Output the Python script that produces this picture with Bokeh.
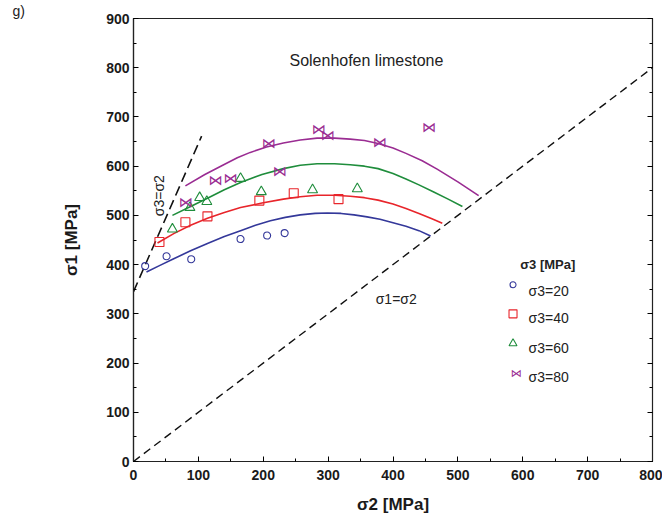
from bokeh.plotting import figure
from bokeh.models import Range1d, LinearAxis, FixedTicker, Label
from bokeh.core.properties import value
from bokeh.embed import file_html
from bokeh.resources import INLINE

# ---- data ----
s20_x = [18, 51, 89, 165, 206, 233]
s20_y = [397, 417, 411, 452, 459, 464]
s40_x = [40, 80, 114, 194, 247, 316]
s40_y = [446, 486, 498, 530, 545, 533]
s60_x = [60, 87, 102, 113, 165, 197, 276, 345]
s60_y = [472, 516, 536, 528, 575, 548, 552, 554]
s80_x = [80, 126, 149, 208, 225, 285, 299, 379, 455]
s80_y = [528, 571, 576, 647, 591, 675, 663, 649, 679]

c20_x = [20, 40, 62, 88, 114, 140, 165, 188, 211, 234, 257, 280, 299, 320, 340, 360, 380, 400, 420, 440, 458]
c20_y = [385, 398, 412, 428, 443, 457, 469, 480, 489, 496, 501, 504, 505, 504, 501, 497, 492, 485, 478, 469, 458]
c40_x = [37, 62, 88, 114, 140, 165, 198, 231, 257, 283, 310, 334, 356, 377, 400, 420, 440, 460, 476]
c40_y = [444, 463, 480, 494, 506, 516, 525, 533, 538, 541, 541, 539, 536, 531, 523, 514, 504, 493, 484]
c60_x = [60, 88, 114, 140, 165, 198, 231, 257, 283, 310, 334, 356, 377, 400, 420, 440, 462, 485, 507]
c60_y = [500, 518, 535, 552, 567, 583, 595, 602, 605, 605, 603, 600, 595, 585, 574, 562, 548, 533, 518]
c80_x = [80, 110, 139, 160, 180, 205, 231, 257, 283, 310, 334, 356, 377, 400, 420, 445, 468, 500, 532]
c80_y = [560, 583, 603, 617, 628, 639, 647, 653, 657, 657, 655, 652, 646, 637, 626, 611, 594, 568, 540]

eq32_x = [0, 105]
eq32_y = [345, 661]
eq12_x = [0, 800]
eq12_y = [0, 800]

x_ticks = [0, 100, 200, 300, 400, 500, 600, 700, 800]
y_ticks = [0, 100, 200, 300, 400, 500, 600, 700, 800, 900]
legend_labels = ["σ3=20", "σ3=40", "σ3=60", "σ3=80"]

BLUE = "#34389a"
RED = "#e8252b"
GREEN = "#1f8d3c"
PURPLE = "#9a2c92"
FONT = "Liberation Sans"

p = figure(width=662, height=522, output_backend="svg", toolbar_location=None,
           x_range=Range1d(0, 800), y_range=Range1d(0, 900),
           min_border_left=133, min_border_right=10, min_border_top=0, min_border_bottom=61)
p.title.text = "g)"
p.title.align = "left"
p.title.offset = -121
p.title.standoff = 0
p.title.text_font = FONT
p.title.text_font_size = "14px"
p.title.text_font_style = "normal"
p.title.text_color = "#222222"

p.xgrid.visible = False
p.ygrid.visible = False
p.outline_line_color = "#222222"
p.outline_line_width = 1.2
p.background_fill_color = "white"
p.border_fill_color = "white"

for ax in (p.xaxis[0], p.yaxis[0]):
    ax.major_tick_in = 5
    ax.major_tick_out = 0
    ax.minor_tick_in = 3
    ax.minor_tick_out = 0
    ax.major_label_text_font = FONT
    ax.major_label_text_font_style = "bold"
    ax.major_label_text_font_size = "14px"
    ax.major_label_text_color = "#1a1a1a"
    ax.axis_label_text_font = FONT
    ax.axis_label_text_font_style = "bold"
    ax.axis_label_text_font_size = "17px"
    ax.axis_label_text_color = "#1a1a1a"
    ax.axis_line_color = "#222222"
    ax.axis_line_width = 1.2

p.xaxis[0].ticker = FixedTicker(ticks=x_ticks, minor_ticks=list(range(0, 801, 50)))
p.yaxis[0].ticker = FixedTicker(ticks=y_ticks, minor_ticks=list(range(0, 901, 50)))
p.xaxis[0].axis_label = "σ2 [MPa]"
p.yaxis[0].axis_label = "σ1 [MPa]"
p.xaxis[0].major_label_standoff = 8
p.xaxis[0].axis_label_standoff = 12
p.yaxis[0].major_label_standoff = 4
p.yaxis[0].axis_label_standoff = 22

right = LinearAxis(ticker=FixedTicker(ticks=y_ticks, minor_ticks=list(range(0, 901, 50))),
                   major_label_text_font_size="0px", major_tick_in=5, major_tick_out=0,
                   minor_tick_in=3, minor_tick_out=0, axis_line_color="#222222")
right.major_label_text_alpha = 0
p.add_layout(right, "right")
p.min_border_right = 10

# reference lines
p.line(eq12_x, eq12_y, line_color="#111111", line_width=1.4, line_dash="8 5")
p.line(eq32_x, eq32_y, line_color="#111111", line_width=1.6, line_dash="10 5")

# fitted curves
p.line(c20_x, c20_y, line_color=BLUE, line_width=1.6)
p.line(c40_x, c40_y, line_color=RED, line_width=1.6)
p.line(c60_x, c60_y, line_color=GREEN, line_width=1.6)
p.line(c80_x, c80_y, line_color=PURPLE, line_width=1.6)

# measured points
p.scatter(s20_x, s20_y, marker="circle", size=7, fill_color=None, line_color=BLUE, line_width=1.1)
p.scatter(s40_x, s40_y, marker="square", size=9, fill_color=None, line_color=RED, line_width=1.1)
p.scatter(s60_x, s60_y, marker="triangle", size=10, fill_color=None, line_color=GREEN, line_width=1.1)
p.text(s80_x, s80_y, text=["⋈"] * len(s80_x), text_font=value("DejaVu Sans"),
       text_font_size="14px", text_color=PURPLE, text_align="center", text_baseline="middle")

# annotations
p.add_layout(Label(x=359, y=815, text="Solenhofen limestone", text_font=FONT,
                   text_font_size="16px", text_color="#222222",
                   text_align="center", text_baseline="middle"))
p.add_layout(Label(x=40, y=540, text="σ3=σ2", text_font=FONT, text_font_size="14px",
                   text_color="#222222", angle=1.5708, text_align="center",
                   text_baseline="middle"))
p.add_layout(Label(x=405, y=331, text="σ1=σ2", text_font=FONT, text_font_size="14px",
                   text_color="#222222", text_align="center", text_baseline="middle"))

# legend (manual)
p.add_layout(Label(x=596, y=401, text="σ3 [MPa]", text_font=FONT, text_font_size="13px",
                   text_font_style="bold", text_color="#222222", text_baseline="middle"))
leg_my = [359, 300, 240, 179]
leg_ty = [347, 292, 230, 171]
p.scatter([585], [leg_my[0]], marker="circle", size=6, fill_color=None, line_color=BLUE, line_width=1.1)
p.scatter([585], [leg_my[1]], marker="square", size=8, fill_color=None, line_color=RED, line_width=1.1)
p.scatter([585], [leg_my[2]], marker="triangle", size=8, fill_color=None, line_color=GREEN, line_width=1.1)
p.text([590], [leg_my[3]], text=["⋈"], text_font=value("DejaVu Sans"), text_font_size="11px",
       text_color=PURPLE, text_align="center", text_baseline="middle")
for lab, ty in zip(legend_labels, leg_ty):
    p.add_layout(Label(x=609, y=ty, text=lab, text_font=FONT, text_font_size="14px",
                       text_color="#222222", text_baseline="middle"))

open("out.html", "w").write(file_html(p, INLINE))
